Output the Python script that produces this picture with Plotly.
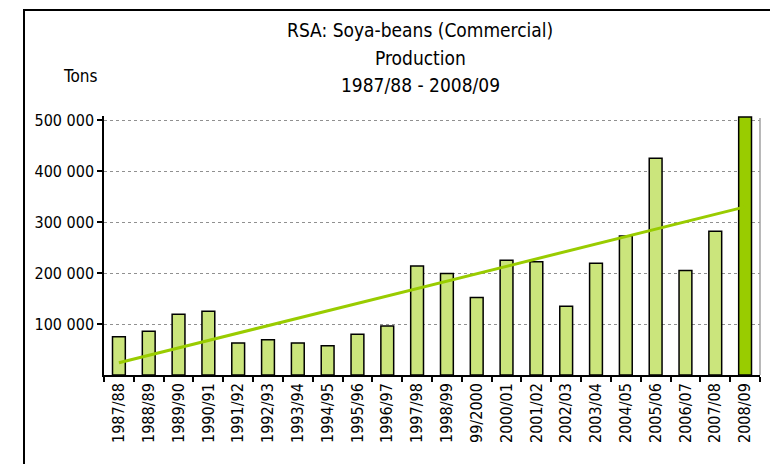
import numpy as np
import plotly.graph_objects as go

seasons = ["1987/88", "1988/89", "1989/90", "1990/91", "1991/92", "1992/93", "1993/94",
           "1994/95", "1995/96", "1996/97", "1997/98", "1998/99", "99/2000", "2000/01",
           "2001/02", "2002/03", "2003/04", "2004/05", "2005/06", "2006/07", "2007/08", "2008/09"]
production = [75000, 86000, 119000, 125000, 63000, 69000, 63000, 57500, 80000, 96000,
              214000, 199000, 152000, 225000, 222000, 135000, 219000, 272500, 425000,
              205000, 282000, 506000]
y_tickvals = [100000, 200000, 300000, 400000, 500000]
y_ticktext = ["100 000", "200 000", "300 000", "400 000", "500 000"]
title_lines = ["RSA: Soya-beans (Commercial)", "Production", "1987/88 - 2008/09"]

# Linear trendline (least squares), as in the original spreadsheet chart
idx = np.arange(len(production))
slope, intercept = np.polyfit(idx, production, 1)
trend = slope * idx + intercept

GREEN = "#99cc00"
LIGHT_GREEN = "#cbe57c"
bar_colors = [LIGHT_GREEN] * (len(seasons) - 1) + [GREEN]

FONT = "DejaVu Sans Condensed, Liberation Sans Narrow, DejaVu Sans, sans-serif"

fig = go.Figure()
fig.add_trace(go.Bar(
    x=seasons, y=production, width=0.43,
    marker=dict(color=bar_colors, line=dict(color="#000000", width=1.5)),
    showlegend=False, hoverinfo="x+y",
))
fig.add_trace(go.Scatter(
    x=seasons, y=trend, mode="lines",
    line=dict(color=GREEN, width=3), showlegend=False, hoverinfo="skip",
))

# page has an 8px body margin; all pixel targets are screen coordinates
OX, OY = 8, 8
W, H = 770, 456
L, T = 104 - OX, 116 - OY
R = W - (760 - OX)
B = H - (375 - OY)
pw, ph = W - L - R, H - T - B

def px_x(x):
    return (x - OX - L) / pw

def px_y(y):
    return (H - B - (y - OY)) / ph

title_y = [30, 58, 85]
annotations = [
    dict(text=t, xref="paper", yref="paper", x=px_x(420), y=px_y(yy),
         xanchor="center", yanchor="middle", showarrow=False,
         font=dict(family=FONT, size=19))
    for t, yy in zip(title_lines, title_y)
]
annotations.append(
    dict(text="Tons", xref="paper", yref="paper", x=px_x(80), y=px_y(76),
         xanchor="center", yanchor="middle", showarrow=False,
         font=dict(family=FONT, size=17))
)

fig.update_layout(
    width=W, height=H,
    margin=dict(l=L, r=R, t=T, b=B, pad=0),
    paper_bgcolor="white", plot_bgcolor="white",
    font=dict(family=FONT, size=16, color="#000000"),
    xaxis=dict(
        type="category", tickangle=-90, tickson="boundaries",
        ticks="outside", ticklen=5, tickcolor="#000000", tickwidth=1.5,
        showline=True, linecolor="#000000", linewidth=1.5,
        showgrid=False, tickfont=dict(family=FONT, size=16),
    ),
    yaxis=dict(
        range=[0, 508000], tickvals=y_tickvals, ticktext=y_ticktext,
        ticks="outside", ticklen=5, tickcolor="#000000", tickwidth=1.5,
        showline=True, linecolor="#000000", linewidth=1.5,
        showgrid=True, gridcolor="#909090", griddash="dot", gridwidth=1,
        zeroline=False, tickfont=dict(family=FONT, size=16),
    ),
    annotations=annotations,
    shapes=[
        dict(type="rect", xref="paper", yref="paper",
             x0=px_x(24), x1=px_x(800), y0=px_y(10), y1=px_y(490),
             line=dict(color="#000000", width=2), fillcolor="rgba(0,0,0,0)", layer="above"),
        dict(type="line", xref="paper", yref="paper", x0=1, x1=1, y0=0, y1=px_y(118),
             line=dict(color="#a0a0a0", width=1.5)),
    ],
)

fig.write_html("out.html")
